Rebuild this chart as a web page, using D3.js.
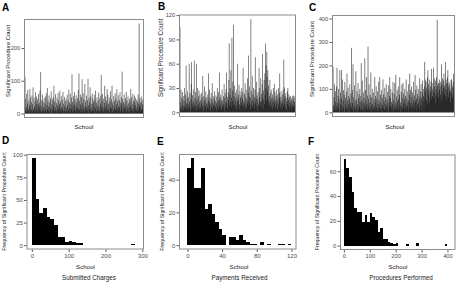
<!DOCTYPE html>
<html><head><meta charset="utf-8">
<script src="https://cdn.jsdelivr.net/npm/d3@7"></script>
<style>body{margin:0;background:#fff}svg{display:block}text{font-family:"Liberation Sans",Arial,sans-serif}</style>
</head><body><svg id="c" width="457" height="282"></svg>
<script>
// Per-school significant procedure counts (panel A: submitted charges)
const schoolA = [
112,8,45,20,3,60,15,30,72,5,12,40,2,25,75,18,50,6,35,10,
55,4,28,80,14,9,48,22,3,38,65,7,16,52,30,2,44,11,27,60,
5,33,19,70,8,127,24,3,41,13,58,6,36,20,9,47,2,31,15,52,
10,62,4,26,78,12,39,7,21,55,3,34,17,46,8,68,1,29,14,43,
6,50,23,85,9,37,4,18,59,11,32,2,48,25,7,63,16,40,5,28,
70,13,35,3,54,20,8,42,15,66,4,30,10,51,22,6,38,2,45,17,
9,57,26,5,40,12,73,3,33,18,60,7,28,48,14,120,4,36,21,53,
8,30,65,11,43,2,24,56,16,35,6,47,19,72,9,122,13,39,4,58,
27,7,50,15,105,3,31,62,10,44,20,5,90,12,37,23,6,55,17,41,
8,106,25,2,48,14,34,80,9,52,18,4,29,61,11,45,7,36,22,57,
3,42,16,70,10,33,5,50,24,12,39,6,64,19,8,47,2,28,55,118,
15,37,9,60,21,4,45,13,32,85,7,52,18,3,40,26,75,11,58,6,
30,14,49,2,36,20,68,8,43,16,85,5,34,25,10,54,3,39,17,62,
12,46,7,28,74,15,38,4,56,22,9,41,19,65,6,33,11,50,27,128,
5,44,14,35,2,58,20,30,8,47,16,66,4,39,24,11,52,7,31,18,
45,3,37,22,75,9,50,13,28,6,60,17,40,2,34,55,10,26,48,15,
8,42,20,36,5,58,12,30,275,23,47,6,33,18,52,10,40,14,28,45];
// panel B: payments received
const schoolB = [
105,4,12,28,6,18,2,25,9,15,3,20,8,30,5,14,22,7,58,11,
3,17,26,6,10,19,4,60,13,8,24,2,16,35,62,5,11,21,7,28,
14,3,64,9,18,6,25,12,2,60,16,8,30,4,20,10,27,5,13,22,
7,15,3,24,11,18,6,45,9,2,20,14,32,5,17,8,26,12,3,19,
10,6,22,15,48,4,13,28,8,18,2,11,24,7,16,36,5,12,20,9,
3,17,26,8,14,6,21,11,2,19,30,7,13,25,4,15,49,9,18,6,
22,12,3,16,28,8,14,5,20,10,35,2,18,24,7,13,29,49,11,6,
19,4,25,15,40,85,9,22,30,12,52,6,18,92,27,14,38,8,108,20,
11,33,5,24,16,9,28,3,19,13,60,7,22,15,34,10,4,26,18,8,
21,12,30,6,17,25,55,9,14,3,23,11,36,7,19,28,5,16,10,42,
13,24,70,8,20,32,11,18,4,115,26,9,15,45,6,22,14,30,10,19,
5,28,68,12,17,8,38,21,3,16,25,11,7,55,19,30,9,14,42,6,
23,13,35,72,18,4,27,15,40,10,48,22,85,30,58,14,75,44,26,52,
16,33,8,20,12,40,6,24,15,28,9,18,4,22,13,30,7,17,35,11,
25,14,5,20,9,28,16,3,22,11,30,7,18,24,48,13,6,19,26,10,
15,4,22,12,28,8,65,17,31,10,20,6,24,14,3,18,11,26,30,9,
16,22,5,19,12,8,20,14,3,17,10,20,7,15,21,9,18,6,13,20];
// panel C: procedures performed
const schoolC = [
195,30,8,65,120,15,45,90,5,25,110,190,40,12,70,100,20,55,3,180,
35,85,10,60,180,28,140,7,48,95,18,75,4,130,38,62,14,88,22,165,
50,9,105,33,70,2,58,120,16,42,80,25,275,12,95,40,205,6,65,30,
115,18,48,8,175,55,22,90,35,4,125,60,15,78,28,100,45,10,70,210,
20,52,135,7,40,85,14,62,30,230,5,95,48,18,150,35,72,11,280,25,
58,120,9,42,75,16,170,30,65,4,100,38,20,85,12,55,28,150,8,70,
45,110,22,60,6,90,35,15,130,50,25,150,10,75,40,18,95,5,62,32,
140,20,78,48,12,105,36,66,8,120,28,55,15,88,42,4,115,30,70,150,
18,60,100,25,45,10,85,35,130,6,52,78,22,125,40,14,160,32,68,9,
95,48,20,110,58,12,75,150,30,42,5,88,25,118,62,15,125,38,80,22,
55,100,10,70,35,140,18,60,90,28,45,8,120,50,75,165,22,95,40,14,
110,65,30,85,12,52,130,40,72,20,160,48,96,8,58,115,35,78,25,100,
42,68,15,145,55,90,30,120,62,10,85,135,45,100,70,25,110,215,60,140,
88,130,50,105,35,150,180,75,120,95,40,140,62,110,85,130,185,55,100,70,
125,90,190,60,145,110,80,135,40,100,150,70,395,115,85,125,60,125,140,95,
110,75,130,50,205,120,90,145,65,105,135,165,80,115,100,215,70,140,125,55,
95,150,180,110,65,130,85,120,100,45,90,140,140,75,115,60,105,130,165,80];

// Histogram bin counts (frequency of significant procedure count)
const histD = [96,51,36,41,31,29,22,9,9,3,5,4,2,2,0,0,0,0,0,0,0,0,0,0,0,0,0,1,0];
const binD = [0, 10];   // start, width
const histE = [47,53,35,35,47,22,25,19,14,10,6,0,5,5,3,6,3,2,1,1,0,2,0,1,0,0,1,1,0,1];
const binE = [0, 4];
const histF = [70,63,55,43,30,27,27,19,25,19,26,23,21,11,14,5,5,3,2,1,2,0,0,0,1,0,0,0,2,0,0,0,0,0,0,0,0,0,0,1,0];
const binF = [0, 10];

// Tick labels
const ticksA = [0,100,200];
const ticksB = [0,30,60,90,120];
const ticksC = [0,100,200,300,400];
const ticksDy = [0,25,50,75,100], ticksDx = [0,100,200,300];
const ticksEy = [0,20,40], ticksEx = [0,40,80,120];
const ticksFy = [0,20,40,60], ticksFx = [0,100,200,300,400];

const svg = d3.select('#c');
const FRAME = '#8c8c8c', TICK = '#333', LAB = '#4d4d4d';

function styleAxis(g, fs) {
  g.select('.domain').remove();
  g.selectAll('.tick line').attr('stroke', TICK).attr('stroke-width', 0.8);
  g.selectAll('.tick text').attr('fill', LAB).attr('font-size', fs);
}
function frame(box) {
  svg.append('rect').attr('x', box.x0 + 0.5).attr('y', box.y0 + 0.5)
    .attr('width', box.x1 - box.x0 - 1).attr('height', box.y1 - box.y0 - 1)
    .attr('fill', 'none').attr('stroke', FRAME).attr('stroke-width', 1);
}
function letter(t, x, y) {
  svg.append('text').attr('x', x).attr('y', y).attr('font-size', 10)
    .attr('font-weight', 'bold').attr('fill', '#000').text(t);
}
function ytitle(t, x, y, fs, anchor) {
  svg.append('text').attr('transform', `translate(${x},${y}) rotate(-90)`)
    .attr('text-anchor', anchor).attr('font-size', fs).attr('fill', '#222').text(t);
}
function xtitle(t, x, y, fs) {
  svg.append('text').attr('x', x).attr('y', y).attr('text-anchor', 'middle')
    .attr('font-size', fs).attr('fill', '#222').text(t);
}

function barPanel(vals, box, ticks, fs) {
  const n = vals.length;
  const x = d3.scaleLinear().domain([-3, n + 2]).range([box.x0, box.x1]);
  const m = d3.max(vals);
  const y = d3.scaleLinear().domain([-0.05 * m, 1.05 * m]).range([box.y1, box.y0]);
  const w = (x(1) - x(0)) * 2.3;
  svg.append('g').selectAll('rect').data(vals).join('rect')
    .attr('x', (d, i) => x(i) - w / 2).attr('width', w)
    .attr('y', d => y(d)).attr('height', d => y(0) - y(d))
    .attr('fill', '#000').attr('fill-opacity', 0.62);
  frame(box);
  const ax = svg.append('g').attr('transform', `translate(${box.x0},0)`)
    .call(d3.axisLeft(y).tickValues(ticks).tickSize(2.5).tickPadding(1.2));
  styleAxis(ax, fs);
}

function histPanel(counts, bin, box, xdom, xt, yt, fs) {
  const x = d3.scaleLinear().domain(xdom).range([box.x0, box.x1]);
  const m = d3.max(counts);
  const y = d3.scaleLinear().domain([-0.05 * m, 1.05 * m]).range([box.y1, box.y0]);
  const bins = counts.map((c, i) => ({ a: bin[0] + i * bin[1], b: bin[0] + (i + 1) * bin[1], c }))
    .filter(d => d.c > 0);
  svg.append('g').attr('shape-rendering', 'crispEdges').selectAll('rect').data(bins).join('rect')
    .attr('x', d => x(d.a)).attr('width', d => x(d.b) - x(d.a))
    .attr('y', d => y(d.c)).attr('height', d => y(0) - y(d.c)).attr('fill', '#000');
  frame(box);
  const ay = svg.append('g').attr('transform', `translate(${box.x0},0)`)
    .call(d3.axisLeft(y).tickValues(yt).tickSize(2.5).tickPadding(1.2));
  styleAxis(ay, fs);
  const axx = svg.append('g').attr('transform', `translate(0,${box.y1})`)
    .call(d3.axisBottom(x).tickValues(xt).tickSize(2.5).tickPadding(1.5));
  styleAxis(axx, fs);
}

// Top row
const bA = {x0: 24, x1: 144, y0: 19, y1: 118};
const bB = {x0: 179, x1: 296, y0: 14.5, y1: 117};
const bC = {x0: 332, x1: 455, y0: 15, y1: 117};
barPanel(schoolA, bA, ticksA, 5.8);
barPanel(schoolB, bB, ticksB, 5.8);
barPanel(schoolC, bC, ticksC, 5.8);
letter('A', 2, 11); letter('B', 158, 10); letter('C', 309, 11);
ytitle('Significant Procedure Count', 9.5, 97, 5.8, 'start');
ytitle('Significant Procedure Count', 162.5, 97, 6.3, 'start');
ytitle('Significant Procedure Count', 314, 97, 6.1, 'start');
xtitle('School', 84, 128.5, 6.2);
xtitle('School', 238, 129, 6.2);
xtitle('School', 395, 129, 6.2);

// Bottom row
const bD = {x0: 26.5, x1: 144, y0: 154, y1: 249.5};
const bE = {x0: 179, x1: 296.5, y0: 154, y1: 249.5};
const bF = {x0: 340, x1: 455.5, y0: 154.5, y1: 250};
histPanel(histD, binD, bD, [-14.5, 304.5], ticksDx, ticksDy, 6);
histPanel(histE, binE, bE, [-9.7, 125.8], ticksEx, ticksEy, 6);
histPanel(histF, binF, bF, [-15, 431], ticksFx, ticksFy, 5.8);
letter('D', 2, 144); letter('E', 157, 145); letter('F', 308, 145);
ytitle('Frequency of Significant Procedure Count', 6, 201.5, 5.3, 'middle');
ytitle('Frequency of Significant Procedure Count', 163.5, 201.5, 5.3, 'middle');
ytitle('Frequency of Significant Procedure Count', 319, 202, 5.2, 'middle');
xtitle('School', 85.5, 268.5, 6.2);
xtitle('School', 239, 268.5, 6.2);
xtitle('School', 398, 268.5, 6.2);
xtitle('Submitted Charges', 89, 279.5, 6.3);
xtitle('Payments Received', 239.5, 279.5, 6.3);
xtitle('Procedures Performed', 401, 279.5, 6.3);
</script></body></html>
